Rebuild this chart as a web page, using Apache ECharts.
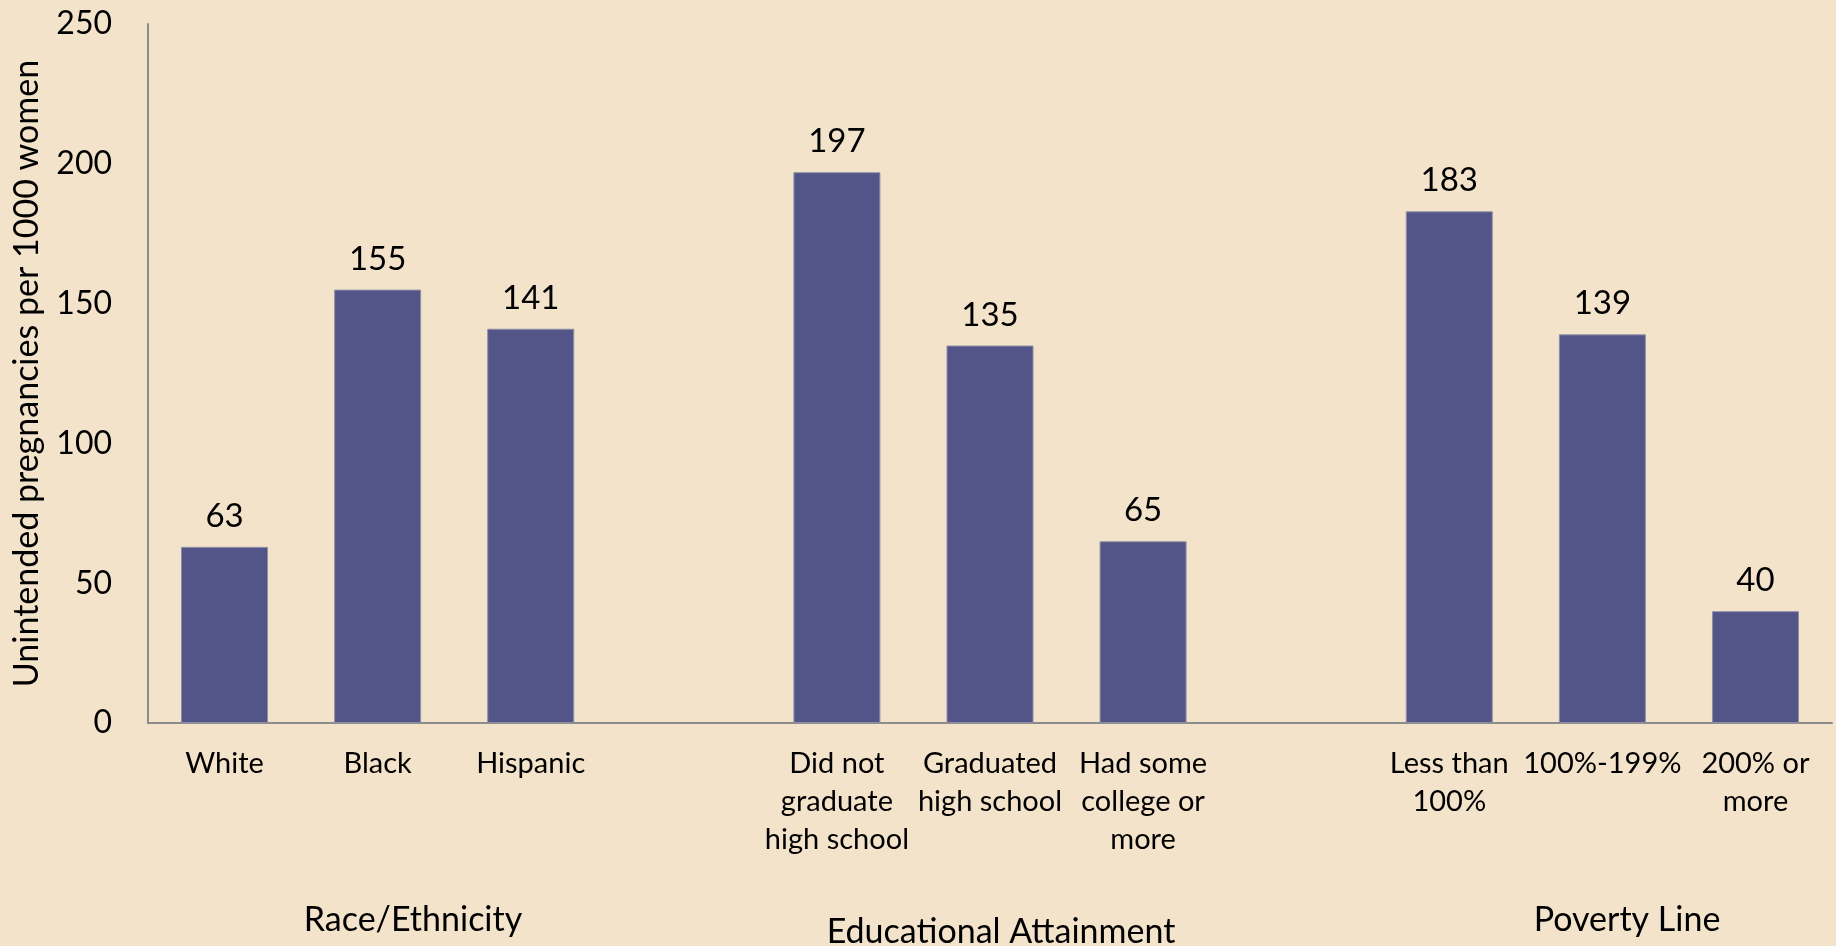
<!DOCTYPE html>
<html>
<head>
<meta charset="utf-8">
<title>Unintended pregnancies</title>
<script src="https://cdn.jsdelivr.net/npm/echarts@6/dist/echarts.min.js"></script>
<style>
  html, body { margin: 0; padding: 0; background: #f3e3cb; }
  #chart { width: 1836px; height: 946px; }
</style>
</head>
<body>
<div id="chart"></div>
<script>
// categories, blanks separate the three groups
const categories = [
  'White', 'Black', 'Hispanic', '',
  'Did not\ngraduate\nhigh school', 'Graduated\nhigh school', 'Had some\ncollege or\nmore', '',
  'Less than\n100%', '100%-199%', '200% or\nmore'
]
const values = [63, 155, 141, null, 197, 135, 65, null, 183, 139, 40]
const groupNames = ['Race/Ethnicity', 'Educational Attainment', 'Poverty Line']
const yTicks = [0, 50, 100, 150, 200, 250]

const FONT = 'Lato'
const chart = echarts.init(document.getElementById('chart'))

const groupPos = [[413, 920], [1001, 932], [1627, 920]]

const option = {
  backgroundColor: '#f3e3cb',
  animation: false,
  textStyle: { fontFamily: FONT },
  grid: { left: 148, right: 4, top: 24, bottom: 223, containLabel: false },
  xAxis: {
    type: 'category',
    data: categories,
    axisLine: { lineStyle: { color: '#8c8c8c', width: 2 } },
    axisTick: { show: false },
    axisLabel: {
      interval: 0,
      color: '#000',
      fontSize: 29,
      lineHeight: 38,
      margin: 22,
      fontFamily: FONT
    }
  },
  yAxis: {
    type: 'value',
    min: yTicks[0],
    max: yTicks[yTicks.length - 1],
    interval: 50,
    name: 'Unintended pregnancies per 1000 women',
    nameLocation: 'middle',
    nameGap: 104,
    nameTextStyle: { color: '#000', fontSize: 34, fontFamily: FONT },
    axisLine: { show: true, lineStyle: { color: '#8c8c8c', width: 2 } },
    axisTick: { show: false },
    splitLine: { show: false },
    axisLabel: { color: '#000', fontSize: 32, margin: 36, fontFamily: FONT }
  },
  series: [{
    type: 'bar',
    data: values,
    barWidth: 87,
    itemStyle: { color: '#535487', borderColor: '#8f8fa6', borderWidth: 1 },
    label: {
      show: true,
      position: 'top',
      distance: 14,
      color: '#000',
      fontSize: 33,
      fontFamily: FONT
    }
  }],
  graphic: groupNames.map((name, i) => ({
    type: 'text',
    x: groupPos[i][0],
    y: groupPos[i][1],
    style: {
      text: name,
      fontSize: 34,
      fontFamily: FONT,
      fill: '#000',
      align: 'center',
      verticalAlign: 'middle'
    }
  }))
}

chart.setOption(option)
</script>
</body>
</html>
